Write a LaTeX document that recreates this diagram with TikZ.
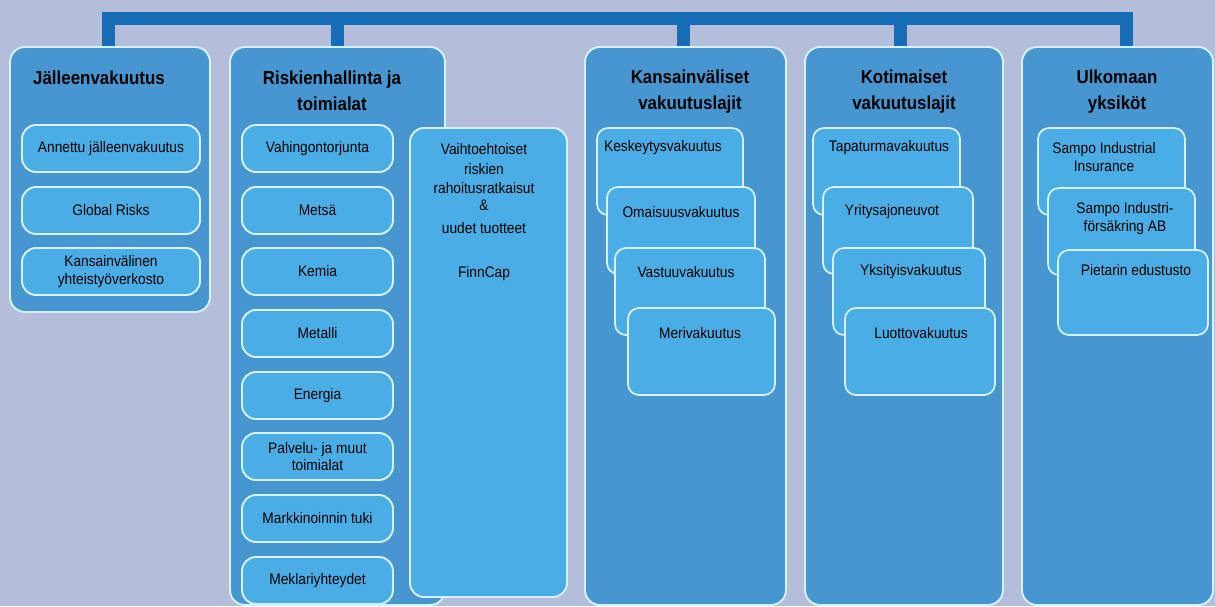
\documentclass[tikz,border=0pt]{standalone}
\usepackage{fontspec}
\setmainfont{Liberation Sans}[FakeStretch=0.9]
\usetikzlibrary{fit}

\definecolor{backgr}{HTML}{B4BDD9}
\definecolor{panelblue}{HTML}{4896D0}
\definecolor{boxblue}{HTML}{4BADE5}
\definecolor{rimblue}{HTML}{D6F2FF}
\definecolor{barblue}{HTML}{176DB5}

\tikzset{
  panelbox/.style={draw=rimblue, line width=1.1pt, fill=panelblue, rounded corners=0.3cm, inner sep=0pt},
  itembox/.style={draw=rimblue, line width=1.1pt, fill=boxblue, rounded corners=0.28cm, inner sep=0pt,
    minimum height=0.94cm, align=center, font=\fontsize{8.7}{10.2}\selectfont},
  stackbox/.style={draw=rimblue, line width=1pt, fill=boxblue, rounded corners=0.22cm, inner sep=0pt},
  headtext/.style={align=center, font=\bfseries\fontsize{10.7}{14.7}\selectfont},
  itemtext/.style={align=center, font=\fontsize{8.7}{10.2}\selectfont, inner sep=1pt},
  topbar/.style={draw=barblue, line width=0.26cm},
}

\begin{document}
\begin{tikzpicture}[x=0.02cm, y=-0.02cm]
  \fill[backgr] (0,0) rectangle (1215,606);
  \useasboundingbox (0,0) rectangle (1215,606);

  % panels
  \node[panelbox, fit={(10,47) (210,312)}] (jv) {};
  \node[panelbox, fit={(230,47) (445,605)}] (rh) {};
  \node[panelbox, fit={(585,47) (786,605)}] (kv) {};
  \node[panelbox, fit={(805,47) (1003,605)}] (ko) {};
  \node[panelbox, fit={(1022,47) (1213,605)}] (ua) {};

  % connector on top
  \coordinate (top) at (0,18);
  \draw[topbar] ([xshift=-0.04cm]jv.north) -- ([xshift=-0.04cm]jv.north |- top) -- ([xshift=0.17cm]ua.north |- top) -- ([xshift=0.17cm]ua.north);
  \draw[topbar] (rh.north) -- (rh.north |- top);
  \draw[topbar] ([xshift=-0.05cm]kv.north) -- ([xshift=-0.05cm]kv.north |- top);
  \draw[topbar] ([xshift=-0.08cm]ko.north) -- ([xshift=-0.08cm]ko.north |- top);

  % headings
  \node[headtext] (jvh) at (99,78) {Jälleenvakuutus};
  \node[headtext] (rhh) at (332,91) {Riskienhallinta ja\\toimialat};
  \node[headtext] (kvh) at (690,92) {Kansainväliset\\vakuutuslajit};
  \node[headtext] (koh) at (904,92) {Kotimaiset\\vakuutuslajit};
  \node[headtext] (uah) at (1117,92) {Ulkomaan\\yksiköt};

  % Jälleenvakuutus
  \node[itembox, minimum width=3.56cm] (aj) at (111,148.5) {Annettu jälleenvakuutus};
  \node[itembox, minimum width=3.56cm] (gr) at (111,210.5) {Global Risks};
  \node[itembox, minimum width=3.56cm] (ky) at (111,271.5) {Kansainvälinen\\yhteistyöverkosto};

  % Riskienhallinta ja toimialat
  \node[itembox, minimum width=3.02cm] (vt) at (317.5,148.5) {Vahingontorjunta};
  \node[itembox, minimum width=3.02cm] (me) at (317.5,210.5) {Metsä};
  \node[itembox, minimum width=3.02cm] (ke) at (317.5,271.5) {Kemia};
  \node[itembox, minimum width=3.02cm] (mt) at (317.5,333.5) {Metalli};
  \node[itembox, minimum width=3.02cm] (en) at (317.5,395.5) {Energia};
  \node[itembox, minimum width=3.02cm] (pm) at (317.5,456.5) {Palvelu- ja muut\\toimialat};
  \node[itembox, minimum width=3.02cm] (mk) at (317.5,518.5) {Markkinoinnin tuki};
  \node[itembox, minimum width=3.02cm] (my) at (317.5,580.5) {Meklariyhteydet};

  \node[itembox, fit={(410,128) (567,597)}] (vr) {};
  \node[itemtext, anchor=north, font=\fontsize{8.7}{11.3}\selectfont] (vrt) at (484,141)
    {Vaihtoehtoiset\\riskien\\rahoitusratkaisut\\[-1.7pt]\&\\[1.7pt]uudet tuotteet\\[13.6pt]FinnCap};

  % Kansainväliset vakuutuslajit
  \node[stackbox, fit={(597,128) (743,215)}] (k1) {};
  \node[stackbox, fit={(607,187) (755,274)}] (k2) {};
  \node[stackbox, fit={(615,248) (765,335)}] (k3) {};
  \node[stackbox, fit={(628,308) (775,395)}] (k4) {};
  \node[itemtext] (k1t) at (663,148) {Keskeytysvakuutus};
  \node[itemtext] (k2t) at (681,212) {Omaisuusvakuutus};
  \node[itemtext] (k3t) at (686,272) {Vastuuvakuutus};
  \node[itemtext] (k4t) at (700,333) {Merivakuutus};

  % Kotimaiset vakuutuslajit
  \node[stackbox, fit={(813,128) (960,215)}] (t1) {};
  \node[stackbox, fit={(823,187) (973,274)}] (t2) {};
  \node[stackbox, fit={(833,248) (985,335)}] (t3) {};
  \node[stackbox, fit={(845,308) (995,395)}] (t4) {};
  \node[itemtext] (t1t) at (889,148) {Tapaturmavakuutus};
  \node[itemtext] (t2t) at (892,212) {Yritysajoneuvot};
  \node[itemtext] (t3t) at (911,272) {Yksityisvakuutus};
  \node[itemtext] (t4t) at (921,333) {Luottovakuutus};

  % Ulkomaan yksiköt
  \node[stackbox, fit={(1038,128) (1185,215)}] (s1) {};
  \node[stackbox, fit={(1048,188) (1195,275)}] (s2) {};
  \node[stackbox, fit={(1058,250) (1208,335)}] (s3) {};
  \node[itemtext] (s1t) at (1104,157) {Sampo Industrial\\Insurance};
  \node[itemtext] (s2t) at (1125,219) {Sampo Industri-\\försäkring AB};
  \node[itemtext] (s3t) at (1136,270) {Pietarin edustusto};
\end{tikzpicture}
\end{document}
